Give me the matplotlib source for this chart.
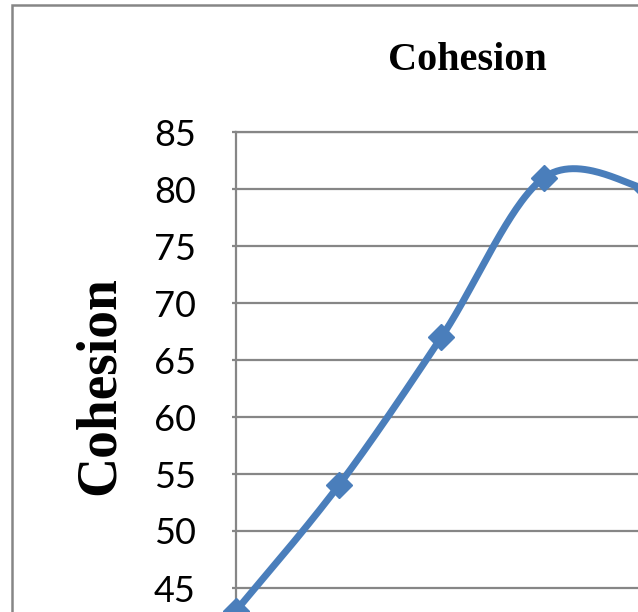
import numpy as np
import matplotlib
matplotlib.use("Agg")
import matplotlib.pyplot as plt
from matplotlib.patches import Rectangle

# Werte der Kohäsion je Messpunkt
punkte = [0, 1, 2, 3, 4]
kohaesion = [43, 54, 67, 81, 80]

y_ticks = [45, 50, 55, 60, 65, 70, 75, 80, 85]

linien_farbe = "#4A7EBB"
grau = "#868686"


def glaetten(x, y, n=60):
    # geglättete Linie wie in Excel (Bezier-Segmente, Tangente = Nachbarpunkte / 6)
    p = np.column_stack([x, y]).astype(float)
    p_ext = np.vstack([p[0], p, p[-1]])
    kurve = []
    t = np.linspace(0, 1, n)[:, None]
    for i in range(len(p) - 1):
        p0, p1 = p[i], p[i + 1]
        c1 = p0 + (p_ext[i + 2] - p_ext[i]) / 6
        c2 = p1 - (p_ext[i + 3] - p_ext[i + 1]) / 6
        seg = ((1 - t) ** 3) * p0 + 3 * ((1 - t) ** 2) * t * c1 \
            + 3 * (1 - t) * t ** 2 * c2 + t ** 3 * p1
        kurve.append(seg)
    kurve = np.vstack(kurve)
    return kurve[:, 0], kurve[:, 1]


fig = plt.figure(figsize=(6.38, 6.12), dpi=100)

# Rahmen des Diagrammbereichs
fig.patches.append(Rectangle((12 / 638, -0.2), 1.2, 1.2 - 5 / 612,
                             transform=fig.transFigure, fill=False,
                             edgecolor=grau, linewidth=1.8))

ax = fig.add_axes([236 / 638, -33 / 612, 513.5 / 638, 513 / 612])

xs, ys = glaetten(punkte, kohaesion)
ax.plot(xs, ys, color=linien_farbe, linewidth=5, solid_capstyle="round", zorder=3)
ax.plot(punkte, kohaesion, linestyle="none", marker="D", markersize=13.5,
        color=linien_farbe, zorder=4, clip_on=False)

ax.set_xlim(0, 5)
ax.set_ylim(40, 85)
ax.set_yticks(y_ticks)
ax.set_xticks([])
ax.grid(axis="y", color=grau, linewidth=1.6)
ax.set_axisbelow(True)

for s in ["right", "bottom"]:
    ax.spines[s].set_visible(False)
for s in ["left", "top"]:
    ax.spines[s].set_color(grau)
    ax.spines[s].set_linewidth(1.6)

ax.tick_params(axis="y", length=3, width=1.6, color=grau, pad=26,
               labelsize=26, labelcolor="black")
for lab in ax.get_yticklabels():
    lab.set_fontfamily("Lato")

fig.text(467 / 638, 1 - 60 / 612, "Cohesion", ha="center", va="center",
         fontsize=29, fontweight="bold", family="Liberation Serif")
fig.text(100 / 638, 1 - 386 / 612, "Cohesion", ha="center", va="center",
         rotation=90, fontsize=40, fontweight="bold", family="Liberation Serif")

fig.savefig("out.png", dpi=100)
